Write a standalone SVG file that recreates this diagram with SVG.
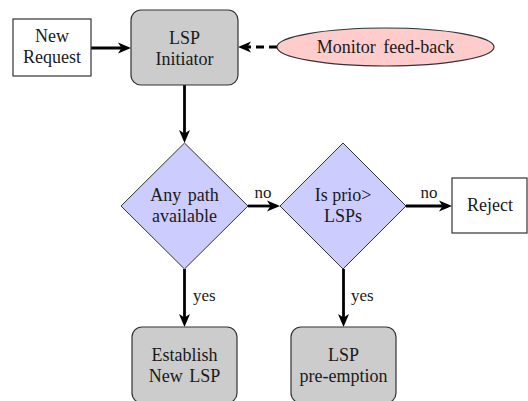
<svg xmlns="http://www.w3.org/2000/svg" width="528" height="401" viewBox="0 0 528 401">
<defs>
<marker id="arr" markerUnits="userSpaceOnUse" markerWidth="14" markerHeight="12" viewBox="0 0 14 12" refX="9" refY="6" orient="auto">
<path d="M0,0.5 L13,6 L0,11.5 L3.5,6 Z" fill="#000"/>
</marker>
</defs>
<g id="connectors" stroke="#000" stroke-width="2.8" fill="none" marker-end="url(#arr)">
<line x1="91" y1="48" x2="127" y2="48"/>
<line x1="277" y1="47" x2="242" y2="47" stroke-dasharray="8 5"/>
<line x1="184.5" y1="85" x2="184.5" y2="139"/>
<line x1="248" y1="206" x2="276" y2="206"/>
<line x1="406" y1="206" x2="448" y2="206"/>
<line x1="184.5" y1="269" x2="184.5" y2="323"/>
<line x1="343.5" y1="269" x2="343.5" y2="323"/>
</g>
<g id="edge-labels" fill="#1a1a1a" stroke="none">
<text x="263" y="198" font-family="Liberation Serif" font-size="17" text-anchor="middle">no</text>
<text x="429" y="198" font-family="Liberation Serif" font-size="17" text-anchor="middle">no</text>
<text x="193" y="301" font-family="Liberation Serif" font-size="17">yes</text>
<text x="351" y="301" font-family="Liberation Serif" font-size="17">yes</text>
</g>
<g id="new-request">
<rect x="13" y="19" width="78" height="57" fill="#fff" stroke="#333" stroke-width="1.2"/>
<text x="52" y="42" font-family="Liberation Serif" font-size="18" text-anchor="middle" fill="#1a1a1a">New</text>
<text x="52" y="63" font-family="Liberation Serif" font-size="18" text-anchor="middle" fill="#1a1a1a">Request</text>
</g>
<g id="lsp-initiator">
<rect x="131" y="10" width="107" height="75" rx="10" fill="#cccccc" stroke="#333" stroke-width="1.2"/>
<text x="184.5" y="44" font-family="Liberation Serif" font-size="18" text-anchor="middle" fill="#1a1a1a">LSP</text>
<text x="184.5" y="65" font-family="Liberation Serif" font-size="18" text-anchor="middle" fill="#1a1a1a">Initiator</text>
</g>
<g id="monitor">
<ellipse cx="385.5" cy="47" rx="108.5" ry="19" fill="#ffcccc" stroke="#333" stroke-width="1.2"/>
<text x="385.5" y="53" font-family="Liberation Serif" font-size="18" text-anchor="middle" fill="#1a1a1a" word-spacing="3">Monitor feed-back</text>
</g>
<g id="any-path">
<polygon points="184.5,143 248,206 184.5,269 121,206" fill="#ccccff" stroke="#333" stroke-width="1"/>
<text x="184.5" y="201" font-family="Liberation Serif" font-size="18" text-anchor="middle" fill="#1a1a1a" word-spacing="2">Any path</text>
<text x="184.5" y="222" font-family="Liberation Serif" font-size="18" text-anchor="middle" fill="#1a1a1a">available</text>
</g>
<g id="is-prio">
<polygon points="343,143 406,206 343,269 280,206" fill="#ccccff" stroke="#333" stroke-width="1"/>
<text x="343" y="201" font-family="Liberation Serif" font-size="18" text-anchor="middle" fill="#1a1a1a">Is prio&gt;</text>
<text x="343" y="222" font-family="Liberation Serif" font-size="18" text-anchor="middle" fill="#1a1a1a">LSPs</text>
</g>
<g id="reject">
<rect x="452" y="178" width="75" height="55" fill="#fff" stroke="#333" stroke-width="1.2"/>
<text x="490" y="211" font-family="Liberation Serif" font-size="18" text-anchor="middle" fill="#1a1a1a">Reject</text>
</g>
<g id="establish">
<rect x="132" y="327" width="105" height="76" rx="10" fill="#cccccc" stroke="#333" stroke-width="1.2"/>
<text x="184.5" y="361" font-family="Liberation Serif" font-size="18" text-anchor="middle" fill="#1a1a1a">Establish</text>
<text x="184.5" y="382" font-family="Liberation Serif" font-size="18" text-anchor="middle" fill="#1a1a1a" word-spacing="2">New LSP</text>
</g>
<g id="preemption">
<rect x="291" y="327" width="105" height="76" rx="10" fill="#cccccc" stroke="#333" stroke-width="1.2"/>
<text x="343.5" y="361" font-family="Liberation Serif" font-size="18" text-anchor="middle" fill="#1a1a1a">LSP</text>
<text x="343.5" y="382" font-family="Liberation Serif" font-size="18" text-anchor="middle" fill="#1a1a1a">pre-emption</text>
</g>
</svg>
